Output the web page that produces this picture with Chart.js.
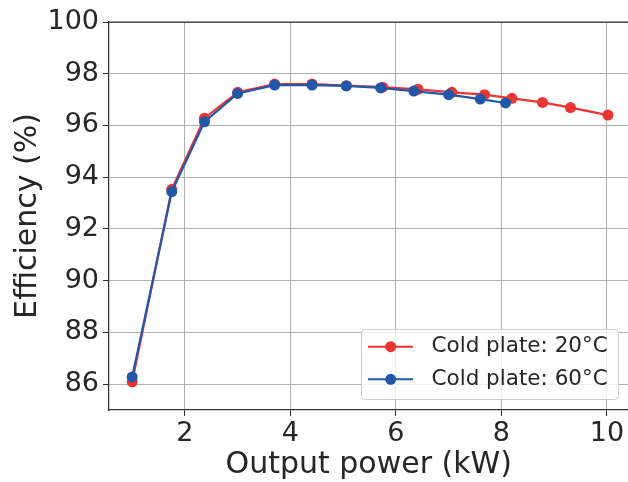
<!DOCTYPE html>
<html>
<head>
<meta charset="utf-8">
<script src="https://cdn.jsdelivr.net/npm/chart.js@4"></script>
<style>
  html, body { margin: 0; padding: 0; background: #fff; overflow: hidden; }
  #caja { width: 628px; height: 482px; overflow: hidden; }
</style>
</head>
<body>
<div id="caja"><canvas id="grafEficiencia" width="634" height="482"></canvas></div>
<script>
const potencia20   = [1.0, 1.75, 2.37, 3.0, 3.70, 4.41, 5.06, 5.75, 6.42, 7.06, 7.68, 8.20, 8.78, 9.31, 10.02];
const eficiencia20 = [86.09, 93.53, 96.28, 97.28, 97.60, 97.60, 97.54, 97.48, 97.40, 97.28, 97.19, 97.05, 96.89, 96.69, 96.40];
const potencia60   = [1.0, 1.75, 2.37, 3.0, 3.70, 4.41, 5.06, 5.71, 6.34, 7.0, 7.6, 8.08];
const eficiencia60 = [86.28, 93.44, 96.14, 97.24, 97.56, 97.56, 97.53, 97.45, 97.33, 97.19, 97.02, 96.87];
const ticksX       = [2, 4, 6, 8, 10];
const ticksY       = [86, 88, 90, 92, 94, 96, 98, 100];
const etiquetas    = ['Cold plate: 20°C', 'Cold plate: 60°C'];

const ROJO  = '#ee3333';
const AZUL  = '#2157a8';
const TEXTO = '#262626';
const FUENTE = "'DejaVu Sans', sans-serif";

const puntos = (xs, ys) => xs.map((x, i) => ({ x, y: ys[i] }));

// marco superior y leyenda dentro del area, como en matplotlib
const marcoYLeyenda = {
  id: 'marcoYLeyenda',
  afterDraw(chart) {
    const { ctx, chartArea: a } = chart;
    ctx.save();
    ctx.strokeStyle = '#333';
    ctx.lineWidth = 1.25;
    ctx.beginPath();
    ctx.moveTo(a.left, a.top);
    ctx.lineTo(a.right, a.top);
    ctx.stroke();

    const bx = 361, by = 329, bw = 257, bh = 70, r = 4;
    ctx.fillStyle = 'rgba(255,255,255,0.8)';
    ctx.strokeStyle = '#cccccc';
    ctx.lineWidth = 1;
    ctx.beginPath();
    ctx.roundRect(bx + 0.5, by + 0.5, bw, bh, r);
    ctx.fill();
    ctx.stroke();

    [ROJO, AZUL].forEach((c, i) => {
      const y = 346.7 + i * 32.6;
      ctx.strokeStyle = c;
      ctx.lineWidth = 2;
      ctx.beginPath();
      ctx.moveTo(368, y);
      ctx.lineTo(413, y);
      ctx.stroke();
      ctx.fillStyle = c;
      ctx.beginPath();
      ctx.arc(390.7, y, 5.5, 0, Math.PI * 2);
      ctx.fill();
      ctx.fillStyle = TEXTO;
      ctx.font = `21.5px ${FUENTE}`;
      ctx.textBaseline = 'middle';
      ctx.fillText(etiquetas[i], 431.5, y);
    });
    ctx.restore();
  }
};

new Chart(document.getElementById('grafEficiencia'), {
  type: 'line',
  data: {
    datasets: [
      {
        label: etiquetas[0], data: puntos(potencia20, eficiencia20), order: 1,
        borderColor: ROJO, backgroundColor: ROJO, borderWidth: 2.2,
        pointRadius: 5.5, pointBackgroundColor: ROJO, pointBorderWidth: 0
      },
      {
        label: etiquetas[1], data: puntos(potencia60, eficiencia60), order: 0,
        borderColor: AZUL, backgroundColor: AZUL, borderWidth: 2.2,
        pointRadius: 5.5, pointBackgroundColor: AZUL, pointBorderWidth: 0
      }
    ]
  },
  options: {
    responsive: false, animation: false,
    layout: { padding: { top: 22, right: 0, left: 0, bottom: 0 } },
    scales: {
      x: {
        type: 'linear', min: 0.56, max: 10.41,
        afterBuildTicks: s => { s.ticks = ticksX.map(v => ({ value: v })); },
        afterFit: s => { s.height = 72; },
        grid: { color: '#b0b0b0', lineWidth: 1, tickColor: '#333', tickLength: 6 },
        border: { color: '#333', width: 1.25 },
        ticks: { color: TEXTO, font: { family: FUENTE, size: 27 }, padding: 2, maxRotation: 0 },
        title: { display: true, text: 'Output power (kW)', color: TEXTO, font: { family: FUENTE, size: 30, lineHeight: 1 }, padding: { top: 0, bottom: 2 } }
      },
      y: {
        type: 'linear', min: 85, max: 100,
        afterBuildTicks: s => { s.ticks = ticksY.map(v => ({ value: v })); },
        afterFit: s => { s.width = 109; },
        grid: { color: '#b0b0b0', lineWidth: 1, tickColor: '#333', tickLength: 6 },
        border: { color: '#333', width: 1.25 },
        ticks: { color: TEXTO, font: { family: FUENTE, size: 27 }, padding: 4 },
        title: { display: true, text: 'Efficiency (%)', color: TEXTO, font: { family: FUENTE, size: 30 }, padding: { top: 10, bottom: 0 } }
      }
    },
    plugins: {
      legend: { display: false },
      tooltip: { enabled: false }
    }
  },
  plugins: [marcoYLeyenda]
});
</script>
</body>
</html>
